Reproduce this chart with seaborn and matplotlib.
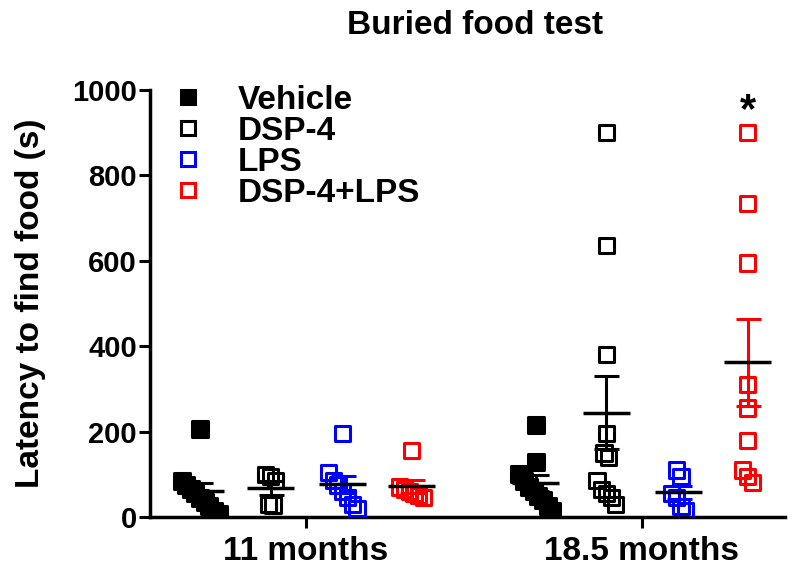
import numpy as np
import pandas as pd
import matplotlib
matplotlib.use("Agg")
import matplotlib.pyplot as plt
import seaborn as sns
from matplotlib.lines import Line2D

# ---- data ----
timepoints = ["11 months", "18.5 months"]
groups = ["Vehicle", "DSP-4", "LPS", "DSP-4+LPS"]
colors = ["#000000", "#000000", "#0000FF", "#FF0000"]
filled = [True, False, False, False]

vehicle_11 = [205, 85, 75, 65, 55, 45, 35, 25, 15, 8]
dsp4_11 = [100, 95, 85, 30, 28]
lps_11 = [195, 105, 85, 75, 60, 45, 30, 20]
combo_11 = [155, 70, 65, 60, 55, 50, 45]
vehicle_185 = [215, 128, 100, 85, 70, 60, 50, 40, 25, 15]
dsp4_185 = [900, 635, 380, 195, 150, 140, 85, 65, 55, 45, 30]
lps_185 = [110, 95, 55, 45, 25, 15]
combo_185 = [900, 735, 595, 310, 255, 180, 110, 95, 80]

series = {
    ("11 months", "Vehicle"): vehicle_11,
    ("11 months", "DSP-4"): dsp4_11,
    ("11 months", "LPS"): lps_11,
    ("11 months", "DSP-4+LPS"): combo_11,
    ("18.5 months", "Vehicle"): vehicle_185,
    ("18.5 months", "DSP-4"): dsp4_185,
    ("18.5 months", "LPS"): lps_185,
    ("18.5 months", "DSP-4+LPS"): combo_185,
}

sig_label = "*"

# ---- layout helpers ----
group_offsets = [-0.315, -0.105, 0.11, 0.315]


def staircase(values, center, mh=26.0, step=0.014, wmax=0.055):
    """Prism-like layout: runs of close values are spread left->right."""
    vals = np.asarray(values, dtype=float)
    order = np.argsort(vals)[::-1]
    xs = np.zeros(len(vals))
    runs, cur = [], [order[0]]
    for i in order[1:]:
        if vals[cur[-1]] - vals[i] < mh:
            cur.append(i)
        else:
            runs.append(cur)
            cur = [i]
    runs.append(cur)
    for r in runs:
        n = len(r)
        if n == 1:
            xs[r[0]] = center
            continue
        w = min(wmax, (n - 1) * step / 2)
        offs = np.linspace(-w, w, n)
        for i, o in zip(r, offs):
            xs[i] = center + o
    return xs


rows = []
for ti, tp in enumerate(timepoints):
    for gi, g in enumerate(groups):
        vals = np.array(series[(tp, g)], dtype=float)
        xs = staircase(vals, ti + group_offsets[gi])
        for x, v in zip(xs, vals):
            rows.append({"timepoint": tp, "group": g, "x": x, "value": v})
df = pd.DataFrame(rows)

# ---- plotting ----
sns.set_style("ticks")
plt.rcParams["font.family"] = ["Liberation Sans", "DejaVu Sans"]
plt.rcParams["font.weight"] = "bold"
for k in ["text.color", "axes.labelcolor", "xtick.color", "ytick.color", "axes.edgecolor"]:
    plt.rcParams[k] = "black"

fig = plt.figure(figsize=(8.0, 5.72), dpi=100)
ax = fig.add_axes([0.1875, 0.0962, 0.7935, 0.7465])

msize = 120
lw = 2.2
for gi, g in enumerate(groups):
    sub = df[df["group"] == g]
    c = colors[gi]
    sns.scatterplot(data=sub, x="x", y="value", marker="s", s=msize,
                    facecolor=c if filled[gi] else "none", edgecolor=c,
                    linewidth=lw, ax=ax, legend=False, zorder=3)

for ti, tp in enumerate(timepoints):
    for gi, g in enumerate(groups):
        vals = np.array(series[(tp, g)], dtype=float)
        m = vals.mean()
        sem = vals.std(ddof=1) / np.sqrt(len(vals))
        xc = ti + group_offsets[gi]
        ax.errorbar(xc, m, yerr=sem, fmt="none", ecolor=colors[gi],
                    elinewidth=lw, capsize=9, capthick=lw, zorder=4)
        ax.hlines(m, xc - 0.07, xc + 0.07, color="black", lw=lw + 0.3, zorder=5)

# significance
vals = np.array(series[("18.5 months", "DSP-4+LPS")])
ax.text(1 + group_offsets[3], vals.max() + 50, sig_label, ha="center", va="center",
        fontsize=30, fontweight="bold", color="black")

ax.set_xlim(-0.464, 1.426)
ax.set_ylim(0, 1000)
ax.set_xticks([0, 1])
ax.set_xticklabels(timepoints)
ax.set_yticks(np.arange(0, 1001, 200))
ax.set_xlabel("")
ax.set_ylabel("Latency to find food (s)", fontsize=24, fontweight="bold", labelpad=19)
ax.tick_params(axis="x", labelsize=24, width=2.2, length=8, pad=6)
ax.tick_params(axis="y", labelsize=21, width=2.2, length=8, pad=1.5)
for lab in ax.get_xticklabels() + ax.get_yticklabels():
    lab.set_fontweight("bold")
sns.despine(ax=ax)
for s in ["left", "bottom"]:
    ax.spines[s].set_linewidth(2.5)

fig.suptitle("Buried food test", fontsize=24, fontweight="bold", x=0.594, y=0.983)

handles = [Line2D([], [], linestyle="none", marker="s", markersize=10,
                  markerfacecolor=colors[i] if filled[i] else "none",
                  markeredgecolor=colors[i], markeredgewidth=lw)
           for i in range(len(groups))]
leg = ax.legend(handles, groups, loc="upper left", bbox_to_anchor=(0.033, 1.012),
                frameon=False, fontsize=24, handletextpad=1.0, labelspacing=0.0,
                borderaxespad=0, borderpad=0, handlelength=1.0)
for t in leg.get_texts():
    t.set_fontweight("bold")

fig.savefig("out.png", dpi=100)
